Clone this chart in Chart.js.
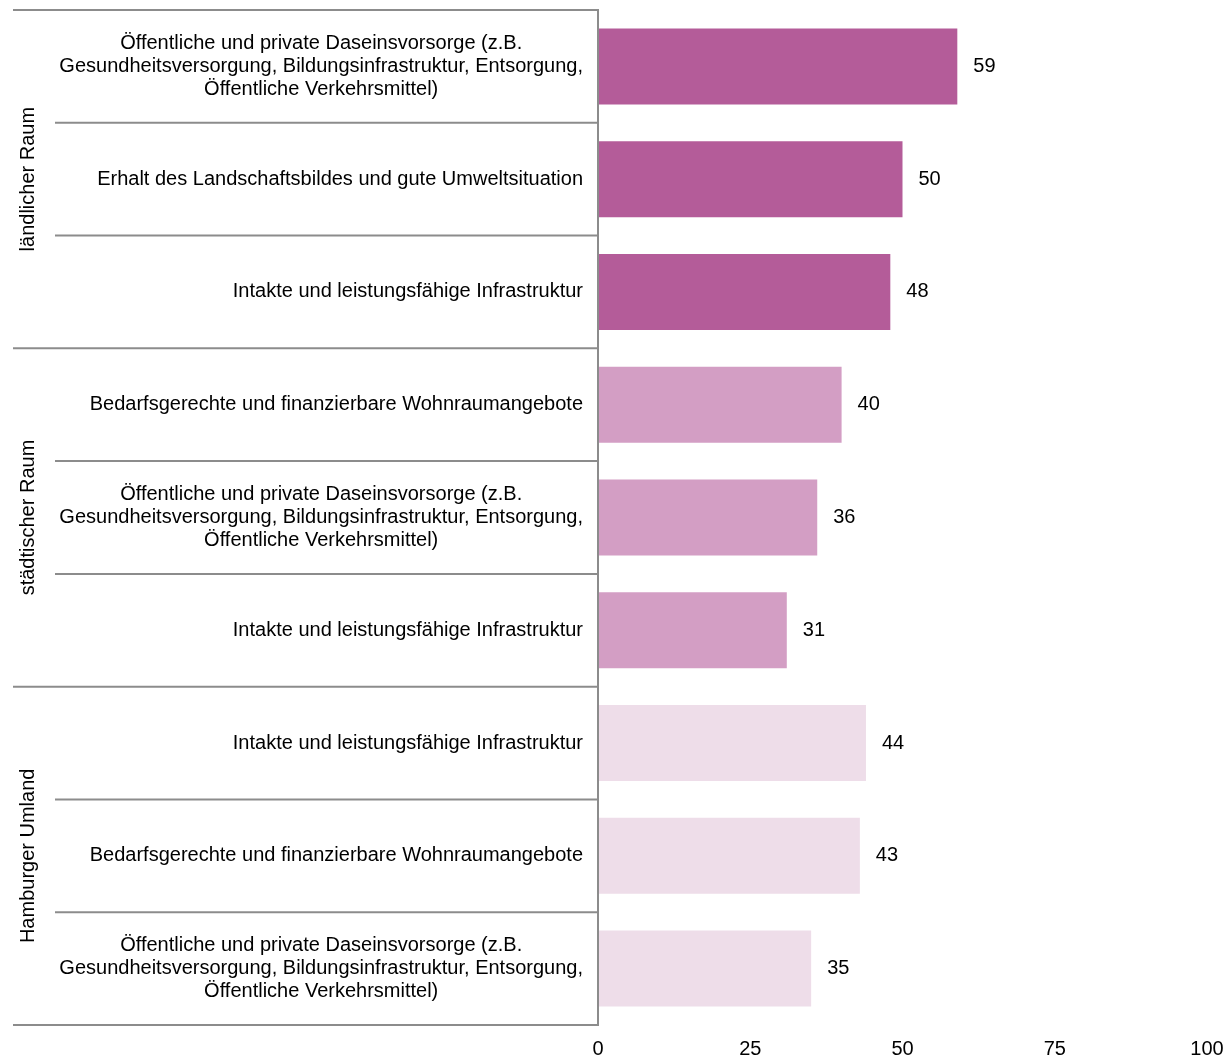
<!DOCTYPE html>
<html>
<head>
<meta charset="utf-8">
<script src="https://cdn.jsdelivr.net/npm/chart.js@4/dist/chart.umd.min.js"></script>
<style>
    body { margin: 0; background: #fff; }
    #chartBox { width: 1228px; height: 1060px; }
</style>
</head>
<body>
<div id="chartBox"><canvas id="myChart" width="1228" height="1060"></canvas></div>
<script>
const Daseinsvorsorge = ['Öffentliche und private Daseinsvorsorge (z.B.',
    'Gesundheitsversorgung, Bildungsinfrastruktur, Entsorgung,',
    'Öffentliche Verkehrsmittel)'];
const Infrastruktur = ['Intakte und leistungsfähige Infrastruktur'];
const Wohnraum = ['Bedarfsgerechte und finanzierbare Wohnraumangebote'];
const Landschaft = ['Erhalt des Landschaftsbildes und gute Umweltsituation'];

const Categories = [Daseinsvorsorge, Landschaft, Infrastruktur,
    Wohnraum, Daseinsvorsorge, Infrastruktur,
    Infrastruktur, Wohnraum, Daseinsvorsorge];
const Values = [59, 50, 48, 40, 36, 31, 44, 43, 35];

const Groups = ['ländlicher Raum', 'städtischer Raum', 'Hamburger Umland'];
const GroupSize = [3, 3, 3];
const GroupColors = ['#b45c99', '#d39ec4', '#eedde9'];
const XTicks = [0, 25, 50, 75, 100];

const fontFamily = '"Liberation Sans", Arial, sans-serif';
const lineColor = '#8c8c8c';
const plotRight = 1207;

// colour of each bar comes from the group it belongs to
let barColors = [];
GroupSize.forEach((n, g) => {
    for (let i = 0; i < n; i++) barColors.push(GroupColors[g]);
});

// category labels, separators, group labels and value labels
const sidePlugin = {
    id: 'sidePlugin',
    afterDraw(chart) {
        const ctx = chart.ctx;
        const yScale = chart.scales.y;
        const xScale = chart.scales.x;
        const area = chart.chartArea;
        const n = Values.length;

        let bounds = [area.top];
        for (let i = 1; i < n; i++) {
            bounds.push((yScale.getPixelForValue(i - 1) + yScale.getPixelForValue(i)) / 2);
        }
        bounds.push(area.bottom);

        ctx.save();
        ctx.strokeStyle = lineColor;
        ctx.lineWidth = 2;
        let groupStarts = [0];
        GroupSize.forEach(s => groupStarts.push(groupStarts[groupStarts.length - 1] + s));
        bounds.forEach((b, i) => {
            const isGroup = groupStarts.includes(i);
            ctx.beginPath();
            ctx.moveTo(isGroup ? 13 : 55, b);
            ctx.lineTo(area.left, b);
            ctx.stroke();
        });
        ctx.beginPath();
        ctx.moveTo(area.left, area.top - 1);
        ctx.lineTo(area.left, area.bottom + 1);
        ctx.stroke();

        ctx.fillStyle = '#000';
        ctx.font = '20px ' + fontFamily;
        ctx.textBaseline = 'middle';
        ctx.textAlign = 'center';
        Categories.forEach((lines, i) => {
            const cy = yScale.getPixelForValue(i);
            let maxW = 0;
            lines.forEach(l => { maxW = Math.max(maxW, ctx.measureText(l).width); });
            const cx = area.left - 15 - maxW / 2;
            lines.forEach((l, k) => {
                ctx.fillText(l, cx, cy + (k - (lines.length - 1) / 2) * 23);
            });
        });

        Groups.forEach((g, gi) => {
            const top = bounds[groupStarts[gi]];
            const bottom = bounds[groupStarts[gi + 1]];
            ctx.save();
            ctx.translate(28, (top + bottom) / 2);
            ctx.rotate(-Math.PI / 2);
            ctx.fillText(g, 0, 0);
            ctx.restore();
        });

        ctx.textAlign = 'left';
        Values.forEach((v, i) => {
            ctx.fillText(String(v), xScale.getPixelForValue(v) + 16, yScale.getPixelForValue(i));
        });
        ctx.restore();
    }
};

const ctx = document.getElementById('myChart').getContext('2d');
const data = {
    labels: Categories.map(c => c.join(' ')),
    datasets: [{
        data: Values,
        backgroundColor: barColors,
        borderWidth: 0,
        categoryPercentage: 1,
        barPercentage: 0.674
    }]
};
const config = {
    type: 'bar',
    data: data,
    options: {
        indexAxis: 'y',
        responsive: false,
        animation: false,
        devicePixelRatio: 1,
        layout: {
            padding: {top: 10, right: 1228 - plotRight, left: 0, bottom: 0}
        },
        plugins: {
            legend: {display: false},
            tooltip: {enabled: false}
        },
        scales: {
            x: {
                min: 0,
                max: 100,
                afterBuildTicks: function (scale) {
                    scale.ticks = XTicks.map(v => ({value: v}));
                },
                afterFit: function (scale) {
                    scale.height = 35;
                    scale.paddingLeft = 0;
                    scale.paddingRight = 0;
                },
                grid: {display: false, drawTicks: false},
                border: {display: false},
                ticks: {
                    color: '#000',
                    padding: 12,
                    maxRotation: 0,
                    font: {family: fontFamily, size: 20}
                }
            },
            y: {
                afterFit: function (scale) {
                    scale.width = 598;
                },
                grid: {display: false},
                border: {display: false},
                ticks: {display: false}
            }
        }
    },
    plugins: [sidePlugin]
};
const myChart = new Chart(ctx, config);
</script>
</body>
</html>
